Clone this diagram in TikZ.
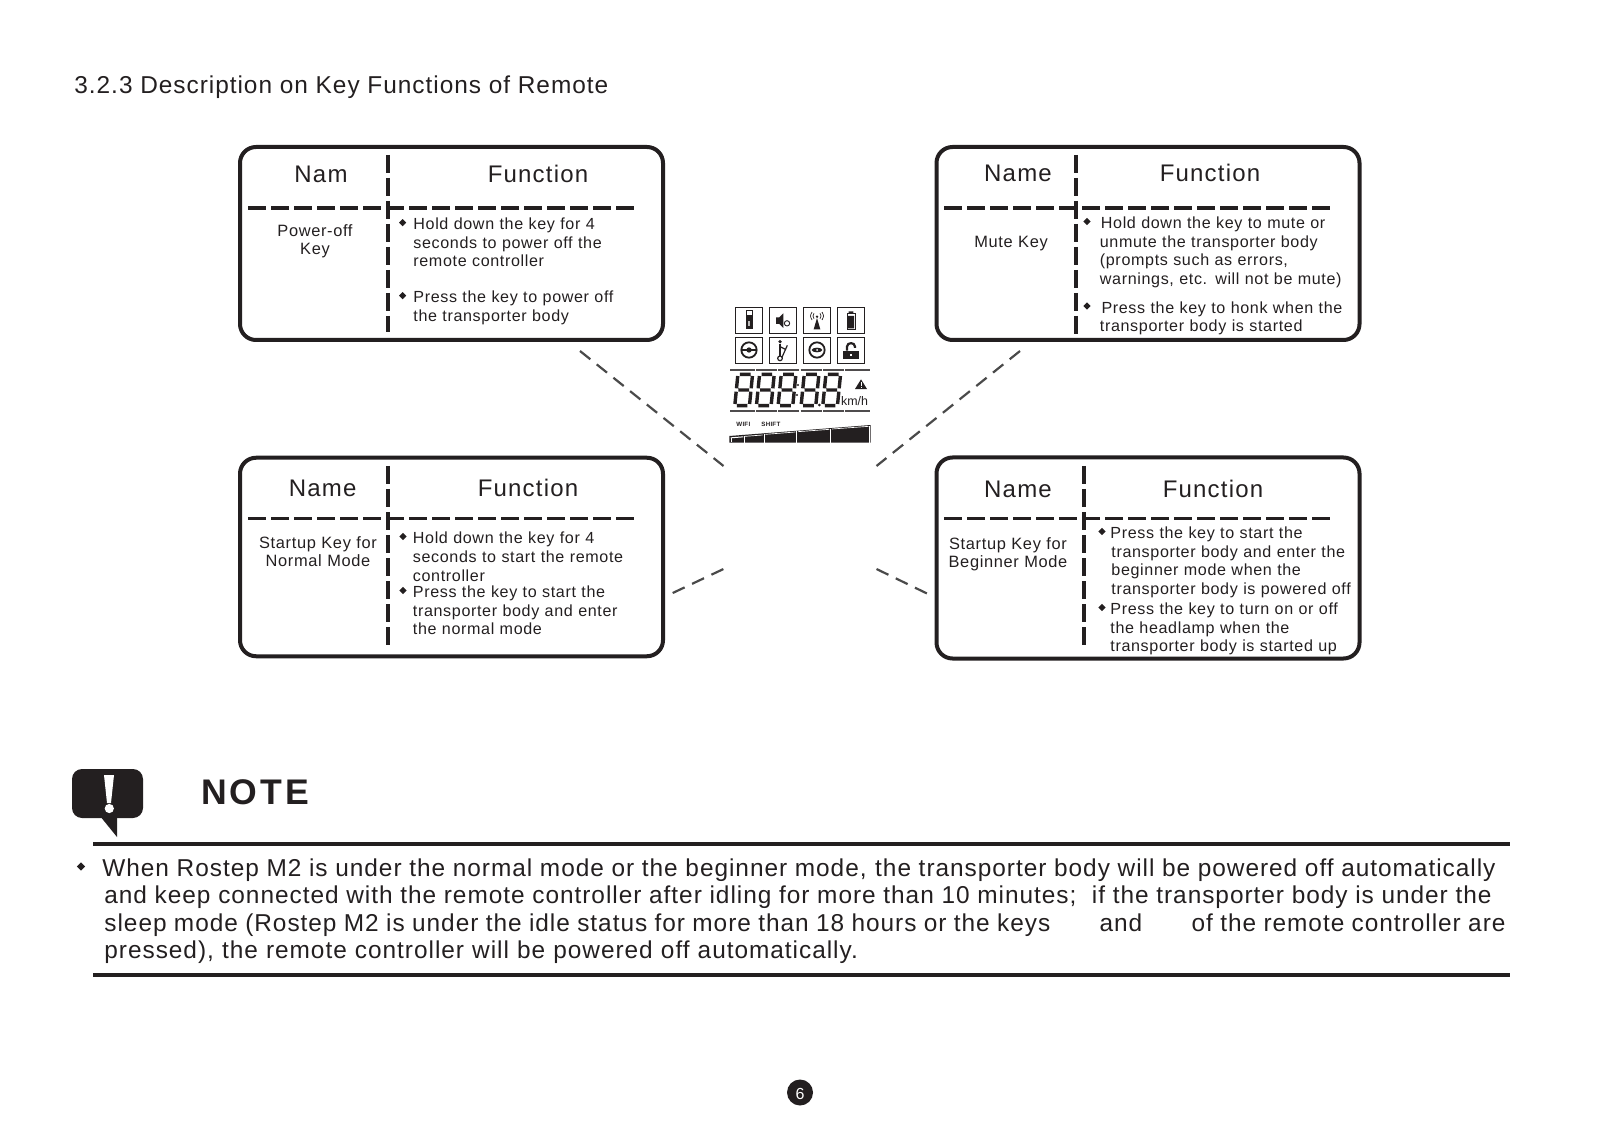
\documentclass[tikz,border=0pt]{standalone}
\usepackage{fontspec}
\setmainfont{Liberation Sans}
\newfontfamily\bodyf[LetterSpace=4]{Liberation Sans}
\newfontfamily\headf[LetterSpace=5]{Liberation Sans}
\newfontfamily\boldf[LetterSpace=4]{Liberation Sans Bold}
\newfontfamily\notef[LetterSpace=8]{Liberation Sans Bold}
\usetikzlibrary{shapes.geometric}
\definecolor{ink}{HTML}{231F20}
\definecolor{linkgrey}{HTML}{4A4A4A}
\tikzset{
  keybox/.style={draw=ink,line width=2pt,rounded corners=8pt,minimum width=211.5pt,inner sep=0pt,outer sep=0pt},
  hdivider/.style={draw=ink,line width=1.7pt,dash pattern=on 9pt off 2.5pt},
  vdivider/.style={draw=ink,line width=1.9pt,dash pattern=on 8.8pt off 2.7pt},
  link/.style={draw=linkgrey,line width=1.1pt,dash pattern=on 6.6pt off 4.1pt},
  headtxt/.style={anchor=base,inner sep=0pt,text=ink,font={\headf\fontsize{12}{14}\selectfont}},
  nametxt/.style={anchor=base,inner sep=0pt,text=ink,text width=130pt,align=center,font={\bodyf\fontsize{8.2}{9.1}\selectfont}},
  paratxt/.style={anchor=base west,inner sep=0pt,text=ink,text width=#1,align=left,font={\bodyf\fontsize{8.05}{9.25}\selectfont}},
  paratxt/.default=150pt,
  notetxt/.style={anchor=base west,inner sep=0pt,text=ink,text width=760pt,align=left,font={\bodyf\fontsize{12.2}{13.7}\selectfont}},
  iconbox/.style={draw=ink,line width=0.45pt},
  lcdbar/.style={draw=ink!80,line width=0.9pt},
  seg/.style={draw=ink,line width=1.7pt},
}
\newcommand{\bul}[3][3.6]{\fill[ink] (#2-#1,#3) -- (#2,#3-#1) -- (#2+#1,#3) -- (#2,#3+#1) -- cycle;}
\newcommand{\lcddigit}[1]{%
  \begin{scope}[shift={(#1,250)},xslant=0.1]
    \draw[seg] (8,3) -- (40,3) (8,50) -- (40,50) (8,97) -- (40,97)
      (2,8) -- (2,45) (2,55) -- (2,92) (46,8) -- (46,45) (46,55) -- (46,92);
  \end{scope}}
\newcommand{\fitline}[2]{{\spaceskip=.16em plus 1em\relax\makebox[#1][s]{#2}}}
\begin{document}
\begin{tikzpicture}[x=0.5pt,y=-0.5pt]
\useasboundingbox (0,0) rectangle (1601,1128);
\node[anchor=base west,inner sep=0pt,text=ink,font={\bodyf\fontsize{12.2}{14}\selectfont}] (title) at (74,94) {3.2.3 Description on Key Functions of Remote};

% boxes
\node[keybox,minimum height=96.5pt] (tl) at (451.5,243.5) {};
\node[keybox,minimum height=96.5pt] (tr) at (1148,243.5) {};
\node[keybox,minimum height=99.25pt] (bl) at (451.5,557) {};
\node[keybox,minimum height=100.5pt] (br) at (1148,558) {};

% dividers
\draw[vdivider] (388,155) -- (388,332);
\draw[hdivider] (248,208) -- (634,208);
\draw[vdivider] (1076,155) -- (1076,335);
\draw[hdivider] (944,208) -- (1330,208);
\draw[vdivider] (388,466) -- (388,645);
\draw[hdivider] (248,518.5) -- (634,518.5);
\draw[vdivider] (1084,466) -- (1084,645);
\draw[hdivider] (944,518.5) -- (1330,518.5);

% top left
\node[headtxt] (h1a) at (321,183) {Nam};
\node[headtxt] (h1b) at (538,183) {Function};
\node[nametxt] (n1) at (315,236.7) {Power-off\\Key};
\bul{402.6}{222.7}\bul{402.6}{295.7}
\node[paratxt] (p1a) at (413,229.8) {Hold down the key for 4\\seconds to power off the\\remote controller};
\node[paratxt] (p1b) at (413,302.7) {Press the key to power off\\the transporter body};

% top right
\node[headtxt] (h2a) at (1018,182) {Name};
\node[headtxt] (h2b) at (1210,182) {Function};
\node[nametxt] (n2) at (1011,248) {Mute Key};
\bul{1087}{221.5}\bul{1087}{306}
\node[paratxt=160pt] (p2a) at (1099.5,229) {\hspace*{.5pt}Hold down the key to mute or\\unmute the transporter body\\(prompts such as errors,\\warnings, etc. will not be mute)};
\node[paratxt=160pt] (p2b) at (1099.5,313.5) {\hspace*{.8pt}Press the key to honk when the\\transporter body is started};

% bottom left
\node[headtxt] (h3a) at (322.6,496) {Name};
\node[headtxt] (h3b) at (528,496) {Function};
\node[nametxt] (n3) at (318,548) {Startup Key for\\Normal Mode};
\bul{403}{536.5}\bul{403}{590.5}
\node[paratxt] (p3a) at (412.5,544) {Hold down the key for 4\\seconds to start the remote\\controller};
\node[paratxt] (p3b) at (412.5,597.5) {Press the key to start the\\transporter body and enter\\the normal mode};

% bottom right
\node[headtxt] (h4a) at (1018,497) {Name};
\node[headtxt] (h4b) at (1213,497) {Function};
\node[nametxt] (n4) at (1008,549) {Startup Key for\\Beginner Mode};
\bul{1102}{531.5}\bul{1102}{607.5}
\node[paratxt=160pt] (p4a) at (1110,538.5) {Press the key to start the\\\hspace*{.5pt}transporter body and enter the\\\hspace*{.5pt}beginner mode when the\\\hspace*{.5pt}transporter body is powered off};
\node[paratxt=160pt] (p4b) at (1110,614.5) {Press the key to turn on or off\\the headlamp when the\\transporter body is started up};

% connectors
\coordinate (lcdTL) at (723.5,466);
\coordinate (lcdTR) at (876.5,466);
\coordinate (lcdBL) at (723.5,569);
\coordinate (lcdBR) at (876.5,569);
\coordinate (boxTL) at (580,351);
\coordinate (boxTR) at (1020,351);
\coordinate (boxBL) at (672.7,593);
\coordinate (boxBR) at (927,593.5);
\draw[link] (boxTL) -- (lcdTL);
\draw[link] (boxTR) -- (lcdTR);
\draw[link] (boxBL) -- (lcdBL);
\draw[link] (lcdBR) -- (boxBR);

% LCD panel, in zoom-crop units
\begin{scope}[x=0.16667pt,y=-0.16667pt,xshift=350pt,yshift=-145pt]
  \foreach \xa in {106,208,310,412} {
    \draw[iconbox] (\xa,52) rectangle +(82,78);
    \draw[iconbox] (\xa,142) rectangle +(82,78);
  }
  % usb
  \draw[ink,line width=0.5pt] (139,63) rectangle (157,78);
  \fill[ink] (137,78) rectangle (159,118);
  \fill[white!70!ink] (145,92) rectangle (150,108);
  % speaker
  \fill[ink] (228,82) -- (238,82) -- (250,70) -- (250,114) -- (238,102) -- (228,102) -- cycle;
  \draw[ink,line width=0.45pt] (261,100) circle (8);
  % antenna
  \fill[ink] (351,84) -- (341,118) -- (361,118) -- cycle;
  \fill[ink] (351,80) circle (4);
  \draw[ink,line width=0.35pt] (342,70) .. controls (338,78) .. (342,86)
    (360,70) .. controls (364,78) .. (360,86)
    (336,66) .. controls (330,78) .. (336,90)
    (366,66) .. controls (372,78) .. (366,90);
  % battery
  \draw[ink,line width=0.5pt] (441,71) rectangle (465,118);
  \fill[ink] (446,64) rectangle (460,71) (444,78) rectangle (462,115);
  % steering
  \draw[ink,line width=0.9pt] (147,180) circle (23);
  \draw[ink,line width=0.7pt] (124,180) -- (170,180);
  \fill[ink] (147,180) circle (8);
  % rider
  \fill[ink] (240,155) circle (5.5);
  \draw[ink,line width=1.4pt] (240,162) -- (240,198);
  \draw[ink,line width=0.6pt] (262,166) -- (245,204) (240,170) -- (256,178);
  \draw[ink,line width=0.6pt,fill=white] (240,205) circle (7);
  % wheel 2
  \draw[ink,line width=0.9pt] (351,180) circle (23);
  \fill[ink] (351,180) ellipse (16 and 7);
  \fill[white] (351,180) circle (3);
  % lock
  \fill[ink] (430,182) rectangle (476,207);
  \draw[ink,line width=1.1pt] (441,182) -- (441,170) .. controls (441,156) and (465,156) .. (465,170) -- (465,174);
  \fill[white] (450,191) rectangle (456,198);
  % bars
  \foreach \xa/\xb in {90/165,168/230,234/298,302/365,369/432,436/510} {
    \draw[lcdbar] (\xa,240) -- (\xb,240);
    \draw[lcdbar] (\xa,362) -- (\xb,362);
  }
  % digits
  \lcddigit{112}\lcddigit{177}\lcddigit{242}\lcddigit{311}\lcddigit{376}
  \fill[ink] (294,285) circle (3.5) (291,315) circle (3.5) (358,345) circle (4.5);
  \fill[ink] (483,268) -- (501,297) -- (465,297) -- cycle;
  \draw[white,line width=0.35pt] (483,277) -- (483,287) (483,290) -- (483,293);
  \node[anchor=base west,inner sep=0pt,text=ink,font={\fontsize{6.2}{7}\selectfont}] (kmh) at (422,346) {km/h};
  \node[anchor=base west,inner sep=0pt,text=ink,font={\boldf\fontsize{3.1}{4}\selectfont}] (wifi) at (108,408) {WIFI};
  \node[anchor=base west,inner sep=0pt,text=ink,font={\boldf\fontsize{3.1}{4}\selectfont}] (shift) at (183,408) {SHIFT};
  % level wedge
  \fill[ink] (88,438) -- (512,405) -- (512,458) -- (88,458) -- cycle;
  \fill[white] (92,442) -- (130,439) -- (130,442) -- (92,445) -- cycle;
  \fill[white] (92,445) rectangle (96,456);
  \fill[white] (135,438) -- (188,434) -- (188,436) -- (135,440) -- cycle;
  \fill[white] (196,432) -- (286,425) -- (286,427) -- (196,434) -- cycle;
  \fill[white] (294,424) -- (388,417) -- (388,419) -- (294,426) -- cycle;
  \fill[white] (396,416) -- (506,408) -- (506,410) -- (396,418) -- cycle;
  \draw[white,line width=0.4pt] (132,438) -- (132,458) (192,432) -- (192,458) (290,424) -- (290,458) (392,416) -- (392,458) (508,408) -- (508,458);
\end{scope}

% note
\fill[ink,rounded corners=5pt] (72,769) rectangle (143,818);
\fill[ink] (100,816) -- (117,837) -- (117,816) -- cycle;
\fill[white] (104,775) -- (114,775) -- (111,803) -- (107,803) -- cycle;
\fill[white] (109.3,808.5) circle (4.6);
\node[anchor=base west,inner sep=0pt,text=ink,font={\notef\fontsize{17.8}{20}\selectfont}] (note) at (201,804) {NOTE};
\draw[ink,line width=2pt] (93,844) -- (1510,844);
\draw[ink,line width=2pt] (93,974.5) -- (1510,974.5);
\bul[4.2]{81}{866.5}
\node[notetxt] (notebody) at (102,876.5) {%
  \fitline{696.6pt}{When Rostep M2 is under the normal mode or the beginner mode, the transporter body will be powered off automatically}\\
  \hspace*{1pt}\fitline{693.6pt}{and keep connected with the remote controller after idling for more than 10 minutes;\hspace{3pt} if the transporter body is under the}\\
  \hspace*{1pt}\fitline{700.6pt}{sleep mode (Rostep M2 is under the idle status for more than 18 hours or the keys\hspace{21pt} and\hspace{21pt} of the remote controller are}\\
  \hspace*{1pt}pressed), the remote controller will be powered off automatically.};

% page number
\fill[ink] (800,1092.5) circle (6.5pt);
\node[inner sep=0pt,text=white,font={\fontsize{8}{9}\selectfont}] (pagenum) at (800,1094) {6};
\end{tikzpicture}
\end{document}
